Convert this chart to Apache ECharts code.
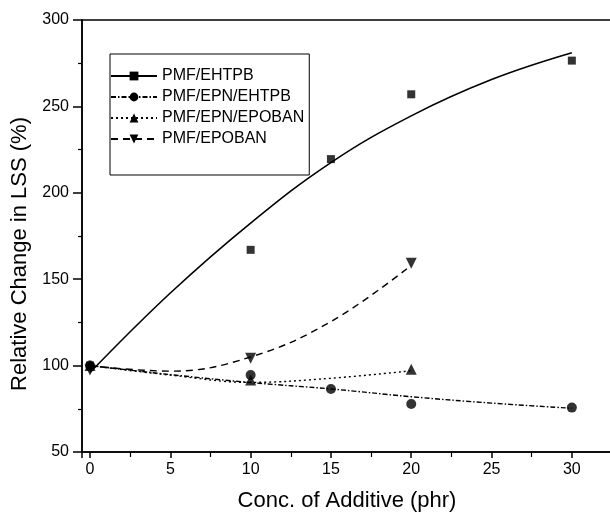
<!DOCTYPE html>
<html>
<head>
<meta charset="utf-8">
<title>Relative Change in LSS</title>
<script src="https://cdn.jsdelivr.net/npm/echarts@6/dist/echarts.min.js"></script>
<style>
  html, body { margin: 0; padding: 0; background: #fff; }
  #main { width: 610px; height: 514px; }
</style>
</head>
<body>
<div id="main"></div>
<script>
(function() {
  'use strict';

  // measured points
  var names = ['PMF/EHTPB', 'PMF/EPN/EHTPB', 'PMF/EPN/EPOBAN', 'PMF/EPOBAN'];
  var ehtpbX = [0, 10, 15, 20, 30];
  var ehtpbY = [100, 167, 219.5, 257, 276.5];
  var epnEhtpbX = [0, 10, 15, 20, 30];
  var epnEhtpbY = [100, 94.5, 86.5, 77.8, 75.7];
  var epnEpobanX = [0, 10, 20];
  var epnEpobanY = [100, 91.7, 97.9];
  var epobanX = [0, 10, 20];
  var epobanY = [97.5, 104.3, 159.3];

  // fitted curves
  var fitEhtpbX = [0, 5, 10, 15, 20, 25, 30];
  var fitEhtpbY = [96, 142, 182.5, 217.5, 244.5, 265.5, 281];
  var fitEpnEhtpbX = [0, 5, 10, 15, 20, 25, 30];
  var fitEpnEhtpbY = [100, 94.8, 90.2, 86.5, 82, 78.3, 75.3];
  var fitEpnEpobanX = [0, 5, 10, 15, 20];
  var fitEpnEpobanY = [100, 94.5, 90.3, 92.7, 97];
  var fitEpobanX = [0, 5, 10, 15, 20];
  var fitEpobanY = [100, 96.8, 105, 125.5, 158];

  var xTicks = [0, 5, 10, 15, 20, 25, 30];

  function pairs(xs, ys) {
    var out = [];
    for (var i = 0; i < xs.length; i++) {
      out.push([xs[i], ys[i]]);
    }
    return out;
  }

  var markers = [
    { symbol: 'rect', size: 8, rotate: 0 },
    { symbol: 'circle', size: 10, rotate: 0 },
    { symbol: 'triangle', size: 11, rotate: 0 },
    { symbol: 'triangle', size: 11, rotate: 180 }
  ];
  var dashes = ['solid', [5, 2, 1.5, 2], [2, 3], [7, 5]];
  var fits = [
    pairs(fitEhtpbX, fitEhtpbY),
    pairs(fitEpnEhtpbX, fitEpnEhtpbY),
    pairs(fitEpnEpobanX, fitEpnEpobanY),
    pairs(fitEpobanX, fitEpobanY)
  ];
  var points = [
    pairs(ehtpbX, ehtpbY),
    pairs(epnEhtpbX, epnEhtpbY),
    pairs(epnEpobanX, epnEpobanY),
    pairs(epobanX, epobanY)
  ];

  var series = [];
  for (var i = 0; i < names.length; i++) {
    series.push({
      name: names[i],
      type: 'line',
      smooth: 0.4,
      data: fits[i],
      showSymbol: false,
      symbol: markers[i].symbol,
      symbolRotate: markers[i].rotate,
      color: '#000',
      lineStyle: { color: '#000', width: i === 0 ? 1.6 : 1.4, type: dashes[i] },
      silent: true,
      z: 2
    });
    series.push({
      name: names[i] + ' pts',
      type: 'scatter',
      data: points[i],
      symbol: markers[i].symbol,
      symbolSize: markers[i].size,
      symbolRotate: markers[i].rotate,
      itemStyle: { color: '#000' },
      z: 3
    });
  }

  var font = 'Liberation Sans, Arial, sans-serif';
  var myChart = echarts.init(document.getElementById('main'));

  var option = {
    animation: false,
    backgroundColor: '#fff',
    grid: {
      left: 82, top: 20, right: -2, bottom: 62,
      outerBoundsMode: 'none',
      containLabel: false,
      show: true, borderColor: '#000', borderWidth: 1.5
    },
    legend: {
      data: names,
      orient: 'vertical',
      left: 110, top: 54,
      itemWidth: 46, itemHeight: 11, itemGap: 5,
      padding: [14, 5, 28, 0],
      borderColor: '#000', borderWidth: 1,
      textStyle: { color: '#000', fontSize: 16, fontFamily: font },
      selectedMode: false
    },
    xAxis: {
      type: 'value',
      min: -0.5, max: 32.5,
      splitNumber: 7,
      name: 'Conc. of Additive (phr)',
      nameLocation: 'middle',
      nameGap: 38,
      nameTextStyle: { color: '#000', fontSize: 22, fontFamily: font },
      axisLine: { onZero: false, lineStyle: { color: '#000', width: 1.5 } },
      axisTick: { lineStyle: { color: '#000', width: 1.5 }, length: 6 },
      minorTick: { show: true, splitNumber: 2, length: 5, lineStyle: { color: '#000', width: 1.2 } },
      splitLine: { show: false },
      axisLabel: {
        color: '#000', fontSize: 16, fontFamily: font, margin: 10,
        formatter: function(v) {
          return xTicks.indexOf(v) >= 0 ? String(v) : '';
        }
      }
    },
    yAxis: {
      type: 'value',
      min: 50, max: 300, interval: 50,
      name: 'Relative Change in LSS (%)',
      nameLocation: 'middle',
      nameGap: 47,
      nameTextStyle: { color: '#000', fontSize: 22, fontFamily: font, padding: [0, 36, 0, 0] },
      axisLine: { show: true, onZero: false, lineStyle: { color: '#000', width: 1.5 } },
      axisTick: { show: true, lineStyle: { color: '#000', width: 1.5 }, length: 9 },
      minorTick: { show: true, splitNumber: 2, length: 4, lineStyle: { color: '#000', width: 1.2 } },
      splitLine: { show: false },
      axisLabel: { color: '#000', fontSize: 16, fontFamily: font, margin: 13 }
    },
    series: series
  };

  myChart.setOption(option);
}());
</script>
</body>
</html>
